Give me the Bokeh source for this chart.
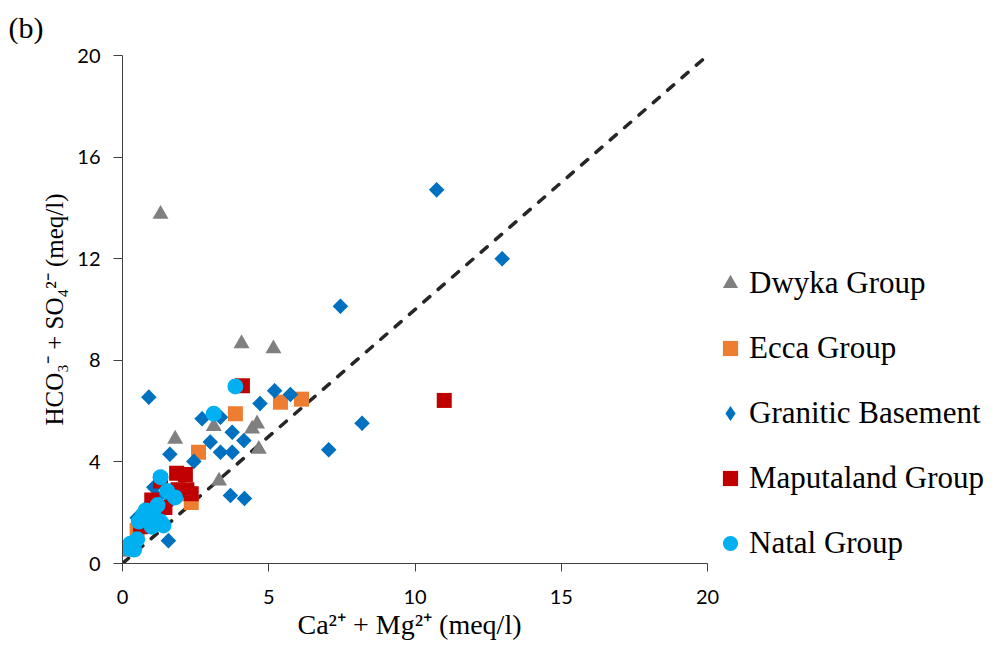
import math
from bokeh.plotting import figure
from bokeh.models import Legend, LegendItem, Title, FixedTicker, Range1d
from bokeh.embed import file_html
from bokeh.resources import INLINE

dwyka_x = [1.3, 4.07, 5.16, 1.8, 3.12, 4.6, 4.43, 4.66, 3.3, 0.2]
dwyka_y = [13.75, 8.66, 8.46, 4.9, 5.4, 5.5, 5.3, 4.5, 3.25, 0.45]

ecca_x = [2.6, 3.86, 5.4, 6.12, 2.35, 0.5, 2.25]
ecca_y = [4.38, 5.9, 6.35, 6.47, 2.4, 1.3, 2.75]

granitic_x = [10.74, 12.98, 7.45, 0.9, 5.2, 5.74, 4.7, 2.72, 3.35, 3.75, 3.0, 4.15, 3.35, 3.75,
              1.62, 2.44, 7.05, 8.19, 3.69, 4.17, 1.57, 1.07, 0.9, 0.5, 1.2, 0.3, 1.5]
granitic_y = [14.71, 12.0, 10.13, 6.55, 6.8, 6.65, 6.3, 5.7, 5.76, 5.17, 4.78, 4.84, 4.38, 4.38,
              4.3, 4.02, 4.48, 5.52, 2.68, 2.56, 0.9, 3.0, 2.3, 1.8, 2.6, 0.8, 2.3]

maputaland_x = [11.0, 4.1, 1.85, 2.15, 1.3, 1.9, 2.35, 1.45, 0.62, 2.2, 1.0]
maputaland_y = [6.42, 7.0, 3.55, 3.5, 3.25, 2.9, 2.75, 2.2, 1.45, 2.9, 2.5]

natal_x = [3.86, 3.12, 1.3, 1.53, 1.8, 1.2, 0.79, 1.05, 0.56, 1.3, 1.0, 0.5, 0.27, 0.22, 0.4, 1.4, 0.7, 0.35]
natal_y = [6.97, 5.9, 3.4, 2.85, 2.6, 2.3, 2.09, 2.0, 1.65, 1.65, 1.45, 0.95, 0.78, 0.6, 0.55, 1.5, 1.9, 0.65]

line_x = [0, 20]
line_y = [0, 20]

x_ticks = [0, 5, 10, 15, 20]
y_ticks = [0, 4, 8, 12, 16, 20]

# frame spans 0..20 on x over 585 px; extended to the right edge so the legend is not clipped
p = figure(width=995, height=659, output_backend="svg", toolbar_location=None,
           x_range=Range1d(0, 873 / 29.25), y_range=Range1d(0, 20),
           min_border_left=122, min_border_right=0, min_border_top=55, min_border_bottom=96)
p.outline_line_color = None
p.xgrid.visible = False
p.ygrid.visible = False
p.background_fill_color = "white"
p.border_fill_color = "white"

r_line = p.line(line_x, line_y, line_color="#262626", line_width=3.5, line_dash="8 11",
                line_cap="round")

r_dwyka = p.scatter(dwyka_x, dwyka_y, marker="triangle", size=16, fill_color="#808080", line_color=None)
r_ecca = p.scatter(ecca_x, ecca_y, marker="square", size=15, fill_color="#ED7D31", line_color=None)
# diamond layer (used as the legend swatch), fully covered by the rotated squares drawn on top
r_gran_key = p.scatter(granitic_x, granitic_y, marker="diamond", size=15, fill_color="#0070C0",
                       line_color=None)
r_gran = p.scatter(granitic_x, granitic_y, marker="square", angle=math.pi / 4, size=11,
                   fill_color="#0070C0", line_color=None)
r_map = p.scatter(maputaland_x, maputaland_y, marker="square", size=15, fill_color="#C00000", line_color=None)
r_nat = p.scatter(natal_x, natal_y, marker="circle", size=16, fill_color="#00B0F0", line_color=None)

for ax, ticks in ((p.xaxis[0], x_ticks), (p.yaxis[0], y_ticks)):
    ax.ticker = FixedTicker(ticks=ticks)
    ax.minor_tick_line_color = None
    ax.major_tick_in = 0
    ax.axis_line_color = "#404040"
    ax.major_tick_line_color = "#404040"
    ax.major_label_text_font = "Lato"
    ax.major_label_text_font_size = "20px"
    ax.major_label_text_color = "black"
    ax.axis_label_text_font = "Liberation Serif"
    ax.axis_label_text_font_size = "25px"
    ax.axis_label_text_font_style = "normal"
    ax.axis_label_text_color = "black"

p.xaxis[0].bounds = (0, 20)
p.xaxis[0].major_tick_out = 8
p.yaxis[0].major_tick_out = 9
p.yaxis[0].axis_label = "HCO₃⁻ + SO₄²⁻ (meq/l)"
p.xaxis[0].major_label_standoff = 18
p.yaxis[0].major_label_standoff = 13
p.yaxis[0].axis_label_standoff = 6

xtitle = Title(text="Ca²⁺ + Mg²⁺ (meq/l)", align="left", offset=175, standoff=0,
               text_font="Liberation Serif", text_font_size="28px", text_font_style="normal",
               text_color="black")
p.add_layout(xtitle, "below")

legend = Legend(items=[
    LegendItem(label="Dwyka Group", renderers=[r_dwyka]),
    LegendItem(label="Ecca Group", renderers=[r_ecca]),
    LegendItem(label="Granitic Basement", renderers=[r_gran_key]),
    LegendItem(label="Maputaland Group", renderers=[r_map]),
    LegendItem(label="Natal Group", renderers=[r_nat]),
], location=(589, 1))
legend.label_text_font = "Liberation Serif"
legend.label_text_font_size = "31px"
legend.label_text_color = "black"
legend.label_height = 38
legend.glyph_height = 38
legend.glyph_width = 38
legend.label_standoff = 0
legend.spacing = 27
legend.padding = 0
legend.margin = 0
legend.border_line_color = None
legend.background_fill_alpha = 0
p.add_layout(legend)

title = Title(text="(b)", align="left", offset=-114, standoff=20, vertical_align="top",
              text_font="Liberation Serif", text_font_size="30px", text_font_style="normal",
              text_color="black")
p.add_layout(title, "above")

open("out.html", "w").write(file_html(p, INLINE))
